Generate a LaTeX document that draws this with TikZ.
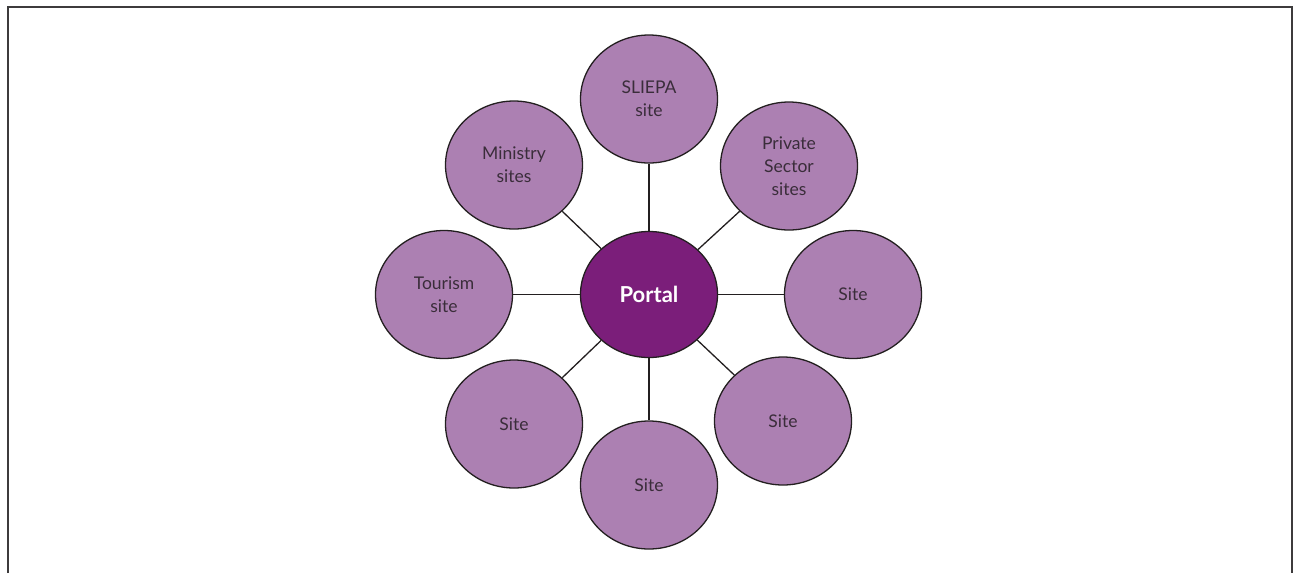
\documentclass[tikz,border=0pt]{standalone}
\usepackage{fontspec}
\setmainfont{Lato}
\usetikzlibrary{shapes.geometric}
\definecolor{satfill}{HTML}{AC80B2}
\definecolor{portalfill}{HTML}{7B1E7A}
\definecolor{inkdark}{HTML}{231F20}
\definecolor{txtdark}{HTML}{3A2D3A}
\definecolor{framegray}{HTML}{3D3B3C}
\begin{document}
\begin{tikzpicture}[x=1pt,y=-1pt,
  sat/.style={ellipse, draw=inkdark, line width=1.3pt, fill=satfill, inner sep=0pt,
    minimum width=137pt, minimum height=128pt, align=center, text=txtdark,
    font=\fontsize{17.5}{23}\selectfont},
  hub/.style={ellipse, draw=inkdark, line width=1.3pt, fill=portalfill, inner sep=0pt,
    minimum width=137pt, minimum height=126pt, text=white,
    font=\fontsize{22}{26}\selectfont\bfseries},
  spoke/.style={draw=inkdark, line width=1.3pt}]
\useasboundingbox (0,0) rectangle (1293,573);
\draw[framegray, line width=2pt] (7.5,573) -- (7.5,6.5) -- (1292,6.5) -- (1292,573);
\node[hub] (portal) at (649,294.5) {Portal};
\node[sat] (sliepa) at (649,99) {SLIEPA\\site};
\node[sat] (ministry) at (514,165) {Ministry\\sites};
\node[sat] (private) at (789,166) {Private\\Sector\\sites};
\node[sat] (tourism) at (444,294.5) {Tourism\\site};
\node[sat] (siteR) at (853,294.5) {Site};
\node[sat] (siteLR) at (783,421) {Site};
\node[sat] (siteB) at (649,485) {Site};
\node[sat] (siteLL) at (514,424) {Site};
\foreach \n in {sliepa,ministry,private,tourism,siteR,siteLR,siteB,siteLL}
  \draw[spoke] (portal) -- (\n);
\end{tikzpicture}
\end{document}
